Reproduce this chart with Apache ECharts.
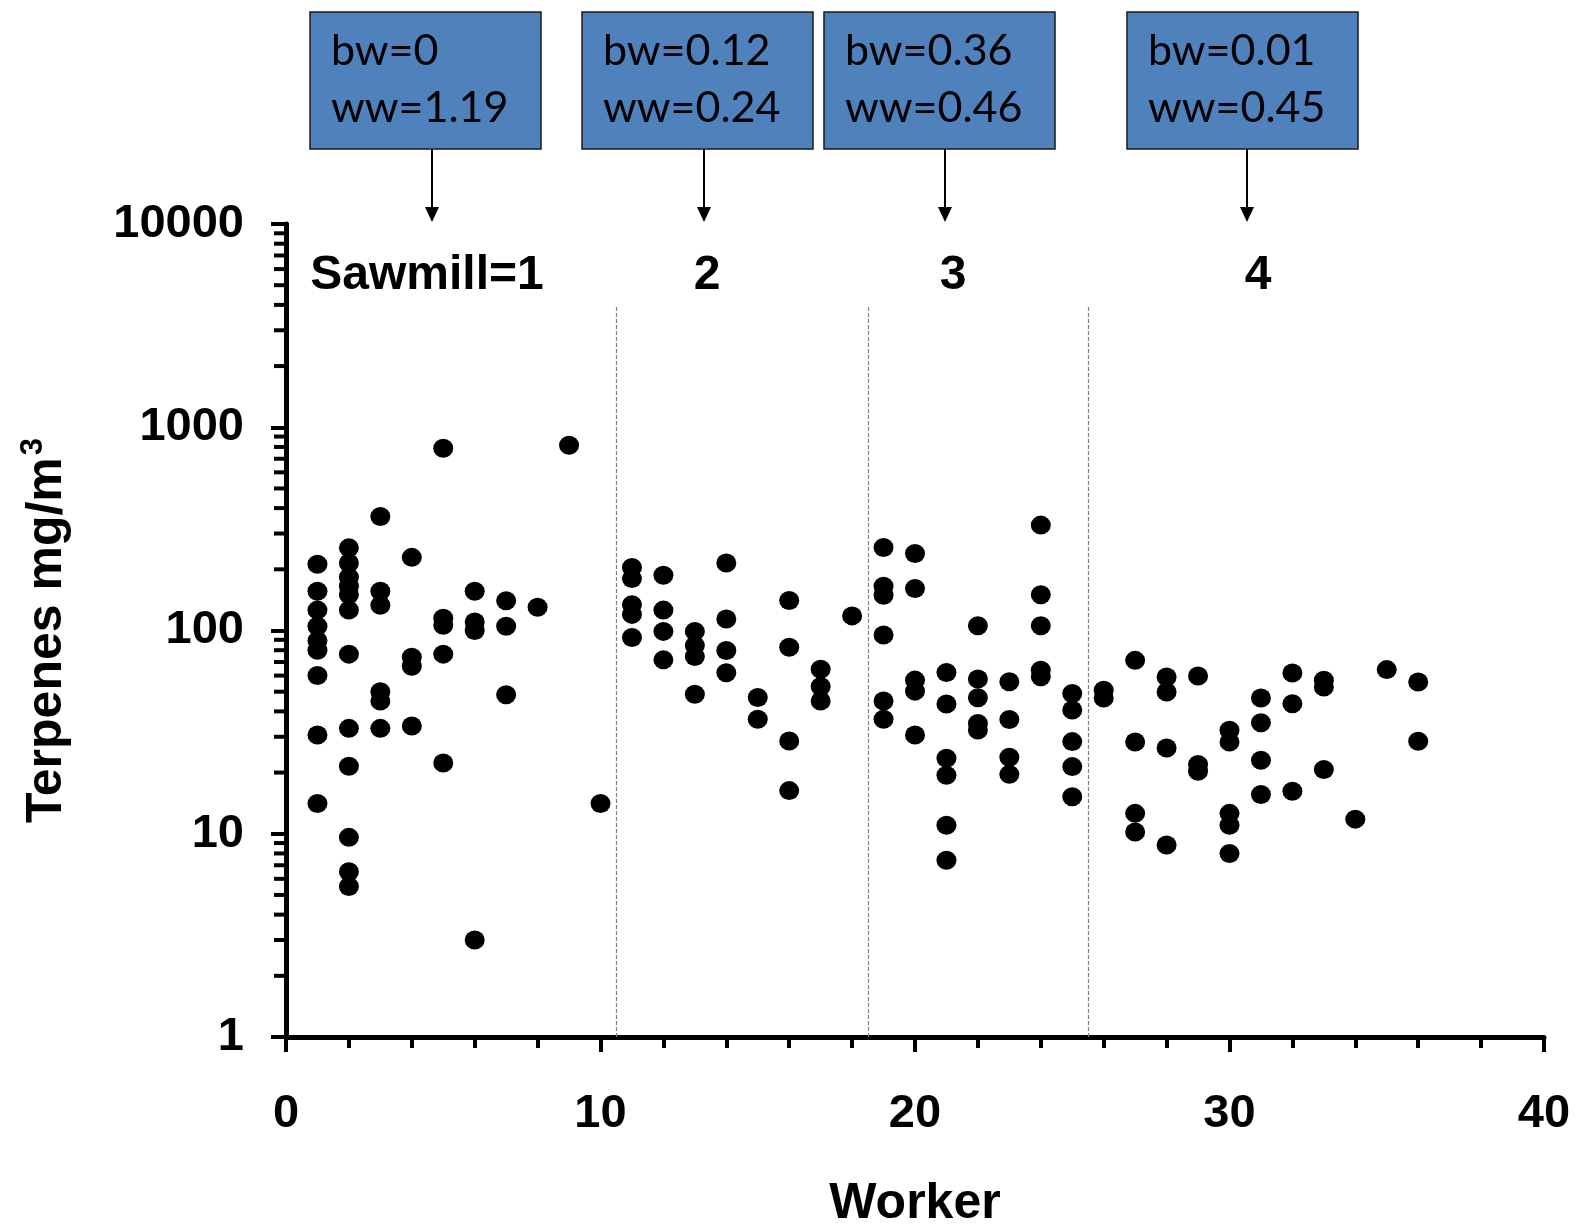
<!DOCTYPE html>
<html><head><meta charset="utf-8">
<script src="https://cdn.jsdelivr.net/npm/echarts@6/dist/echarts.min.js"></script>
<style>html,body{margin:0;padding:0;background:#fff}#c{width:1576px;height:1225px}</style>
</head><body><div id="c"></div>
<script>
// ---- data (terpenes mg/m3 per worker) ----
const sawmill1 = [ // workers 1..10
  [212, 156, 126, 105, 89, 80, 60, 30.6, 14.1],
  [255, 215, 183, 165, 150, 126, 76.5, 33, 21.5, 9.6, 6.5, 5.5],
  [364, 156, 133, 50, 45, 33],
  [229, 73.8, 66.7, 33.9],
  [789, 115, 106, 76.5, 22.3],
  [156, 110, 100, 3.0],
  [140, 105, 48.3],
  [130],
  [815],
  [14.1]
];
const sawmill2 = [ // workers 11..18
  [204, 180, 134, 120, 92.4],
  [187, 126, 99, 71.7],
  [99, 84.4, 74.5, 48.6],
  [215, 114, 79.7, 62],
  [46.8, 36.6],
  [140.5, 82.8, 28.6, 16.3],
  [64.5, 53, 45],
  [118]
];
const sawmill3 = [ // workers 19..25
  [256, 165, 149, 95, 45, 36.6],
  [239, 161, 57, 50.3, 30.6],
  [62.2, 43.5, 23.5, 19.4, 11, 7.4],
  [105.5, 57.7, 46.7, 34.9, 32.4],
  [56, 36.5, 23.8, 19.6],
  [330, 150, 105.5, 63.8, 59.2],
  [49, 40.6, 28.4, 21.4, 15.2]
];
const sawmill4 = [ // workers 26..36
  [50.8, 46.5],
  [71.3, 28.3, 12.6, 10.2],
  [59, 49.8, 26.4, 8.8],
  [59.7, 21.9, 20.3],
  [32.3, 28.3, 12.6, 11.0, 8.0],
  [46.5, 35.2, 23, 15.6],
  [61.8, 43.6, 16.2],
  [56.9, 52.7, 20.7],
  [11.8],
  [64.2],
  [55.8, 28.5]
];
const firstWorker = [1, 11, 19, 26];
const dividers = [10.5, 18.5, 25.5];
const dividerTop = 3900;
const sawmillLabels = ['Sawmill=1', '2', '3', '4'];
const bwLabels = ['bw=0', 'bw=0.12', 'bw=0.36', 'bw=0.01'];
const wwLabels = ['ww=1.19', 'ww=0.24', 'ww=0.46', 'ww=0.45'];

// ---- build points ----
const points = [];
[sawmill1, sawmill2, sawmill3, sawmill4].forEach((mill, s) => {
  mill.forEach((vals, i) => vals.forEach(v => points.push([firstWorker[s] + i, v])));
});
const minorTicks = [];
for (let d = 1; d < 10000; d *= 10) for (let k = 2; k <= 9; k++) minorTicks.push([0, k * d]);

// ---- layout ----
const boxLeft = [310, 582, 824, 1127];
const boxW = 231, boxTop = 12, boxH = 137;
const arrowX = [432, 704, 945, 1247];
const labelX = [427, 707, 953, 1258];

const F = 'Liberation Sans, Arial, sans-serif';
const graphics = [];
for (let i = 0; i < 4; i++) {
  graphics.push({type: 'rect', shape: {x: boxLeft[i], y: boxTop, width: boxW, height: boxH},
    style: {fill: '#4F81BD', stroke: '#1a1a1a', lineWidth: 1.5}});
  graphics.push({type: 'text', x: boxLeft[i] + 21, y: 51,
    style: {text: bwLabels[i], fill: '#000', font: '43px Lato', textVerticalAlign: 'middle'}});
  graphics.push({type: 'text', x: boxLeft[i] + 21, y: 108,
    style: {text: wwLabels[i], fill: '#000', font: '43px Lato', textVerticalAlign: 'middle'}});
  graphics.push({type: 'line', shape: {x1: arrowX[i], y1: boxTop + boxH, x2: arrowX[i], y2: 210},
    style: {stroke: '#000', lineWidth: 2}});
  graphics.push({type: 'polygon', shape: {points: [[arrowX[i] - 7, 207], [arrowX[i] + 7, 207], [arrowX[i], 222]]},
    style: {fill: '#000'}});
  graphics.push({type: 'text', x: labelX[i], y: 276,
    style: {text: sawmillLabels[i], fill: '#000', font: 'bold 48px ' + F, textAlign: 'center', textVerticalAlign: 'middle'}});
}

const chart = echarts.init(document.getElementById('c'), null, {renderer: 'canvas'});
chart.setOption({
  animation: false,
  backgroundColor: '#fff',
  grid: {left: 286, right: 32, top: 224, bottom: 188, containLabel: false, outerBoundsMode: 'none'},
  xAxis: {
    type: 'value', min: 0, max: 40, interval: 10,
    name: 'Worker', nameLocation: 'middle', nameGap: 142,
    nameTextStyle: {fontFamily: F, fontWeight: 'bold', fontSize: 50, color: '#000'},
    axisLine: {show: true, lineStyle: {color: '#000', width: 5}},
    axisTick: {show: true, inside: false, length: 15, lineStyle: {color: '#000', width: 4}},
    minorTick: {show: true, splitNumber: 5, length: 11, lineStyle: {color: '#000', width: 4}},
    axisLabel: {margin: 54, fontFamily: F, fontWeight: 'bold', fontSize: 47, color: '#000'},
    splitLine: {show: false}
  },
  yAxis: {
    type: 'log', logBase: 10, min: 1, max: 10000, splitNumber: 4,
    name: '{a|Terpenes mg/m}{s|3}', nameLocation: 'middle', nameGap: 210,
    nameTextStyle: {rich: {
      a: {fontFamily: F, fontWeight: 'bold', fontSize: 50, color: '#000', lineHeight: 58},
      s: {fontFamily: F, fontWeight: 'bold', fontSize: 31, color: '#000', verticalAlign: 'top', lineHeight: 58, padding: [0, 0, 24, 2]}
    }},
    axisLine: {show: true, lineStyle: {color: '#000', width: 5}},
    axisTick: {show: true, inside: false, length: 15, lineStyle: {color: '#000', width: 4}},
    minorTick: {show: false},
    axisLabel: {margin: 42, fontFamily: F, fontWeight: 'bold', fontSize: 47, color: '#000',
      formatter: v => String(v)},
    splitLine: {show: false}
  },
  series: [
    {
      type: 'scatter', data: points, symbol: 'circle', symbolSize: [20, 19],
      itemStyle: {color: '#000', opacity: 1},
      markLine: {
        silent: true, symbol: 'none', label: {show: false},
        lineStyle: {color: '#808080', width: 1.2, type: [4, 2]},
        data: dividers.map(d => [{coord: [d, 1]}, {coord: [d, dividerTop]}])
      },
      z: 3
    },
    {
      type: 'custom', data: minorTicks, silent: true, clip: false, z: 4,
      encode: {x: 0, y: 1},
      renderItem: (params, api) => {
        const p = api.coord([0, api.value(1)]);
        return {type: 'line', shape: {x1: p[0] - 12, y1: p[1], x2: p[0], y2: p[1]},
          style: {stroke: '#000', lineWidth: 4}};
      }
    }
  ],
  graphic: graphics
});
</script></body></html>
